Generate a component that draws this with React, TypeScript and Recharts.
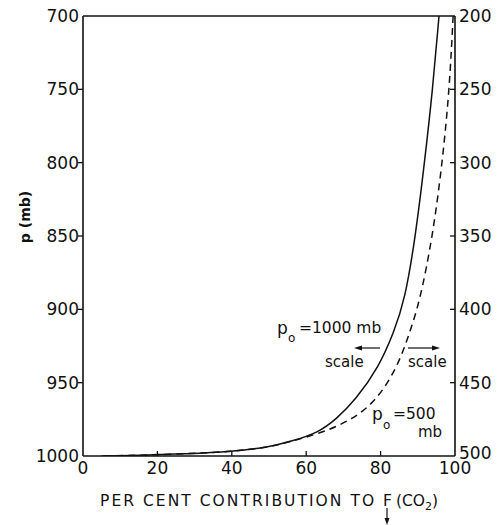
import React from 'react';
import { LineChart, Line, XAxis, YAxis } from 'recharts';

// pressure levels (mb, left scale)
const pressure = [700, 750, 800, 850, 894, 916, 939, 962, 975, 984, 990, 994, 997, 998.5, 999.5, 1000];
// p0 = 1000 mb curve (solid), per cent contribution
const solidPct = [95.7, 94.0, 91.8, 89.4, 86.5, 83.5, 79.6, 73.2, 68, 63.3, 56, 50, 40, 28, 15, 5];
// p0 = 500 mb curve (dashed)
const dashedPct = [99.5, 98.5, 96.6, 94.0, 90.6, 87.8, 84.6, 79, 72.5, 64.5, 56, 50, 40, 28, 15, 5];

const leftTicks = [700, 750, 800, 850, 900, 950, 1000];
// right-hand scale (p0 = 500 mb) sits 500 mb below the left one
const rightOffset = 500;
const xTicks = [0, 20, 40, 60, 80, 100];

const rows = pressure.map((p, i) => ({ p, solid: solidPct[i], dashed: dashedPct[i] }));

const FONT = 'DejaVu Sans, sans-serif';
const INK = '#111';

const BottomTick = (props: any) => {
    const { x, y, payload } = props;
    const edge = payload.value === 0 || payload.value === 100;
    return (
        <g>
            {!edge && <line x1={x} y1={y} x2={x} y2={y - 5} stroke={INK} strokeWidth={1.3} />}
            <text x={x} y={y + 18} textAnchor="middle" fontFamily={FONT} fontSize={17} fill={INK}>
                {payload.value}
            </text>
        </g>
    );
};

const TopTick = (props: any) => {
    const { x, y, payload } = props;
    if (payload.value === 0 || payload.value === 100) return <g />;
    return <line x1={x} y1={y} x2={x} y2={y + 5} stroke={INK} strokeWidth={1.3} />;
};

const LeftTick = (props: any) => {
    const { x, y, payload } = props;
    const edge = payload.value === 700 || payload.value === 1000;
    return (
        <g>
            {!edge && <line x1={x} y1={y} x2={x - 5} y2={y} stroke={INK} strokeWidth={1.3} />}
            <text x={x - 4} y={y + 6} textAnchor="end" fontFamily={FONT} fontSize={17} fill={INK}>
                {payload.value}
            </text>
        </g>
    );
};

const RightTick = (props: any) => {
    const { x, y, payload } = props;
    const edge = payload.value === 700 || payload.value === 1000;
    const lift = payload.value === 1000 ? -3 : 0;
    return (
        <g>
            {!edge && <line x1={x} y1={y} x2={x - 5} y2={y} stroke={INK} strokeWidth={1.3} />}
            <text x={x + 4} y={y + 6 + lift} textAnchor="start" fontFamily={FONT} fontSize={17} fill={INK}>
                {payload.value - rightOffset}
            </text>
        </g>
    );
};

const Arrow = ({ x1, x2, y }: { x1: number; x2: number; y: number }) => {
    const dir = x2 > x1 ? 1 : -1;
    return (
        <g>
            <line x1={x1} y1={y} x2={x2 - dir * 4} y2={y} stroke={INK} strokeWidth={1.2} />
            <polygon points={`${x2},${y} ${x2 - dir * 8},${y - 2.5} ${x2 - dir * 8},${y + 2.5}`} fill={INK} />
        </g>
    );
};

export default function App() {
    return (
        <div style={{ position: 'absolute', left: 0, top: 0, width: 501, height: 525, background: '#fff' }}>
            <LineChart
                width={501}
                height={525}
                layout="vertical"
                data={rows}
                margin={{ top: 15, right: 0, bottom: 39, left: 23 }}
            >
                <XAxis
                    xAxisId="bottom"
                    type="number"
                    domain={[0, 100]}
                    ticks={xTicks}
                    orientation="bottom"
                    height={30}
                    tickSize={0}
                    tickMargin={0}
                    tickLine={false}
                    tick={BottomTick}
                    axisLine={{ stroke: INK, strokeWidth: 1.6 }}
                    interval={0}
                />
                <XAxis
                    xAxisId="top"
                    type="number"
                    domain={[0, 100]}
                    ticks={xTicks}
                    orientation="top"
                    height={1}
                    tickSize={0}
                    tickMargin={0}
                    tickLine={false}
                    tick={TopTick}
                    axisLine={{ stroke: INK, strokeWidth: 1.6 }}
                    interval={0}
                />
                <YAxis
                    yAxisId="left"
                    dataKey="p"
                    type="number"
                    domain={[700, 1000]}
                    ticks={leftTicks}
                    width={60}
                    tickSize={0}
                    tickMargin={0}
                    tickLine={false}
                    tick={LeftTick}
                    axisLine={{ stroke: INK, strokeWidth: 1.6 }}
                    interval={0}
                    allowDataOverflow
                />
                <YAxis
                    yAxisId="right"
                    dataKey="p"
                    orientation="right"
                    type="number"
                    domain={[700, 1000]}
                    ticks={leftTicks}
                    width={46}
                    tickSize={0}
                    tickMargin={0}
                    tickLine={false}
                    tick={RightTick}
                    axisLine={{ stroke: INK, strokeWidth: 1.6 }}
                    interval={0}
                    allowDataOverflow
                />
                <Line
                    xAxisId="bottom"
                    yAxisId="left"
                    dataKey="solid"
                    type="basis"
                    stroke={INK}
                    strokeWidth={1.5}
                    dot={false}
                    isAnimationActive={false}
                />
                <Line
                    xAxisId="bottom"
                    yAxisId="left"
                    dataKey="dashed"
                    type="basis"
                    stroke={INK}
                    strokeWidth={1.5}
                    strokeDasharray="7 5"
                    dot={false}
                    isAnimationActive={false}
                />
            </LineChart>
            <svg
                width={501}
                height={525}
                style={{ position: 'absolute', left: 0, top: 0, pointerEvents: 'none' }}
                fontFamily={FONT}
                fill={INK}
            >
                <text x={25} y={217} transform="rotate(-90 25 217)" textAnchor="middle" dominantBaseline="central" fontSize={14} fontWeight={600}>
                    p (mb)
                </text>
                <text x={277} y={334} fontSize={17}>p</text>
                <text x={288} y={342} fontSize={12}>o</text>
                <text x={299} y={333} fontSize={15.5}>=1000 mb</text>
                <Arrow x1={380} x2={354} y={348} />
                <text x={325} y={367} fontSize={15}>scale</text>
                <Arrow x1={408} x2={440} y={348} />
                <text x={408} y={367} fontSize={15}>scale</text>
                <text x={372} y={420} fontSize={17}>p</text>
                <text x={383} y={429} fontSize={12}>o</text>
                <text x={393} y={419} fontSize={15.5}>=500</text>
                <text x={418} y={437} fontSize={15}>mb</text>
                <text x={100} y={506} fontSize={15.5} textLength={292} lengthAdjust="spacing">
                    PER CENT CONTRIBUTION  TO  F
                </text>
                <text x={396} y={506} fontSize={15.5}>
                    (CO<tspan dy={4} fontSize={11}>2</tspan><tspan dy={-4}>)</tspan>
                </text>
                <line x1={387} y1={508} x2={387} y2={521} stroke={INK} strokeWidth={1.2} />
                <polygon points="387,525 384.5,518 389.5,518" fill={INK} />
            </svg>
        </div>
    );
}
